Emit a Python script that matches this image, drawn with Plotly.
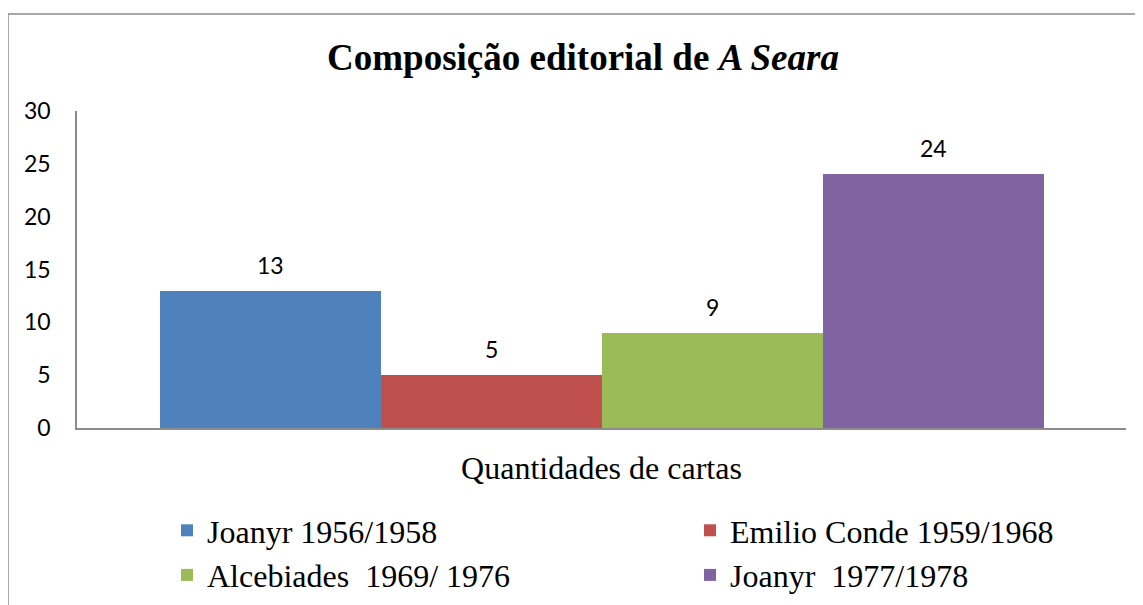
import plotly.graph_objects as go

series = ["Joanyr 1956/1958", "Emilio Conde 1959/1968", "Alcebiades  1969/ 1976", "Joanyr  1977/1978"]
values = [13, 5, 9, 24]
colors = ["#4F81BD", "#C0504D", "#9BBB59", "#8064A2"]
category_title = "Quantidades de cartas"
title_text = "<b>Composição editorial de <i>A Seara</i></b>"
y_ticks = [0, 5, 10, 15, 20, 25, 30]

W, H = 1135, 597  # page body adds an 8px margin
L, T, R, B = 69, 103, 17, 177
PW, PH = W - L - R, H - T - B

fig = go.Figure()
for name, val, col in zip(series, values, colors):
    fig.add_trace(go.Bar(x=[name], y=[val], name=name, marker=dict(color=col, line=dict(width=0)),
                         width=1.0))
    fig.add_annotation(x=name, y=val, text=str(val), showarrow=False, yshift=26,
                       font=dict(family="Lato", size=23, color="black"))

fig.update_layout(
    width=W, height=H,
    margin=dict(l=L, r=R, t=T, b=B, autoexpand=False),
    plot_bgcolor="white", paper_bgcolor="white",
    barmode="overlay", bargap=0,
    title=dict(text=title_text, x=575 / W, xanchor="center", xref="container",
               y=1 - 49 / H, yanchor="middle", yref="container",
               font=dict(family="Liberation Serif", size=37, color="black")),
    xaxis=dict(type="category", range=[-0.875, 3.87], showticklabels=False, ticks="",
               showline=True, linecolor="#8c8c8c", linewidth=1.5, showgrid=False, zeroline=False,
               title=dict(text=category_title, standoff=28,
                          font=dict(family="Liberation Serif", size=32, color="black"))),
    yaxis=dict(range=[0, 30], tickvals=y_ticks, showline=True, linecolor="#8c8c8c", linewidth=1.5,
               showgrid=False, zeroline=False, ticks="", ticklabelstandoff=20,
               tickfont=dict(family="Lato", size=23, color="black")),
    legend=dict(orientation="h", x=(159 - L) / PW, xanchor="left", y=-(495 - (T + PH)) / PH,
                yanchor="top", entrywidth=478, entrywidthmode="pixels",
                font=dict(family="Liberation Serif", size=32, color="black"),
                traceorder="normal"),
    showlegend=True,
    shapes=[dict(type="rect", xref="paper", yref="paper", x0=(0 - L) / PW, x1=1.2,
                 y0=-1.0, y1=1 + (T - 6) / PH, line=dict(color="#8c8c8c", width=1.5),
                 fillcolor="rgba(0,0,0,0)", layer="below")],
)

fig.write_html("out.html")
